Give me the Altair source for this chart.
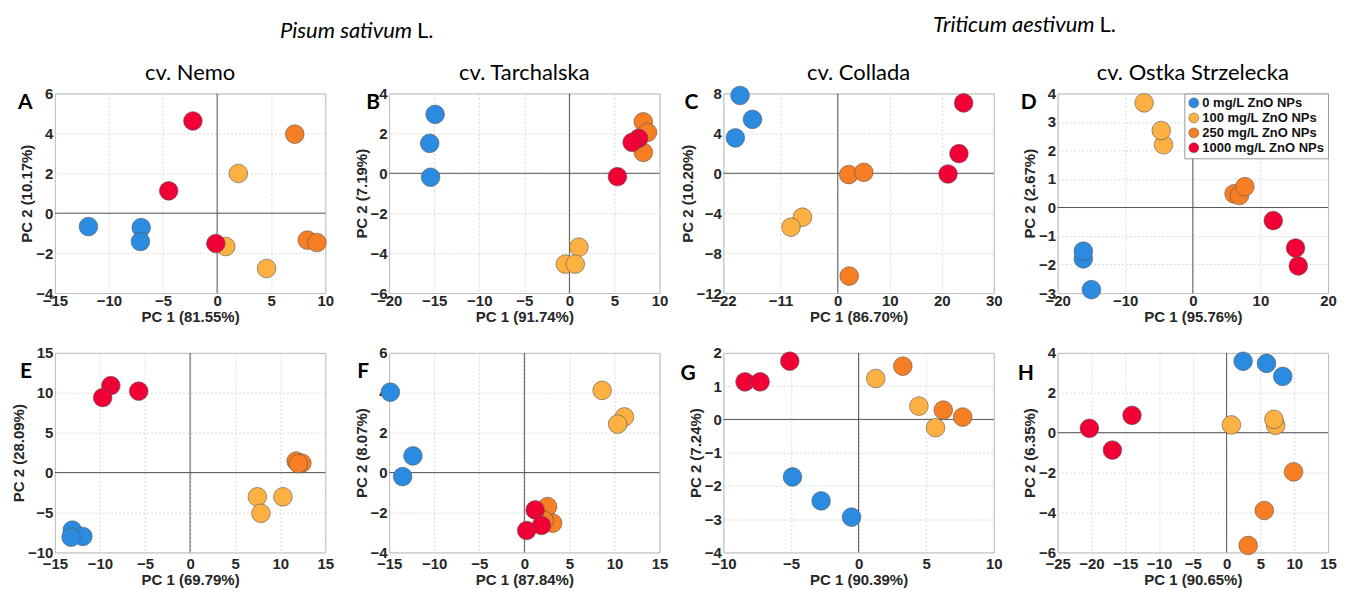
import altair as alt
import pandas as pd

# ---------------- data ----------------
doses = ["0 mg/L ZnO NPs", "100 mg/L ZnO NPs", "250 mg/L ZnO NPs", "1000 mg/L ZnO NPs"]
dose_colors = ["#2a8be0", "#fdb142", "#f87e24", "#f00034"]

letters = ["A", "B", "C", "D", "E", "F", "G", "H"]
cultivars = ["cv. Nemo", "cv. Tarchalska", "cv. Collada", "cv. Ostka Strzelecka"]
species = ["Pisum sativum", "Triticum aestivum"]
species_suffix = "L."

pc1_titles = ["PC 1 (81.55%)", "PC 1 (91.74%)", "PC 1 (86.70%)", "PC 1 (95.76%)",
              "PC 1 (69.79%)", "PC 1 (87.84%)", "PC 1 (90.39%)", "PC 1 (90.65%)"]
pc2_titles = ["PC 2 (10.17%)", "PC 2 (7.19%)", "PC 2 (10.20%)", "PC 2 (2.67%)",
              "PC 2 (28.09%)", "PC 2 (8.07%)", "PC 2 (7.24%)", "PC 2 (6.35%)"]

x_domains = [[-15, 10], [-20, 10], [-22, 30], [-20, 20], [-15, 15], [-15, 15], [-10, 10], [-25, 15]]
x_ticks = [[-15, -10, -5, 0, 5, 10], [-20, -15, -10, -5, 0, 5, 10], [-22, -11, 0, 10, 20, 30],
           [-20, -10, 0, 10, 20], [-15, -10, -5, 0, 5, 10, 15], [-15, -10, -5, 0, 5, 10, 15],
           [-10, -5, 0, 5, 10], [-25, -20, -15, -10, -5, 0, 5, 10, 15]]
y_domains = [[-4, 6], [-6, 4], [-12, 8], [-3, 4], [-10, 15], [-4, 6], [-4, 2], [-6, 4]]
y_ticks = [[-4, -2, 0, 2, 4, 6], [-6, -4, -2, 0, 2, 4], [-12, -8, -4, 0, 4, 8],
           [-3, -2, -1, 0, 1, 2, 3, 4], [-10, -5, 0, 5, 10, 15], [-4, -2, 0, 2, 4, 6],
           [-4, -3, -2, -1, 0, 1, 2], [-6, -4, -2, 0, 2, 4]]

# group index into doses (0, 100, 250, 1000 mg/L)
A_grp = [0, 0, 0, 1, 1, 1, 2, 2, 2, 3, 3, 3]
A_pc1 = [-11.9, -7.02, -7.09, 1.96, 0.8, 4.57, 7.18, 8.34, 9.23, -2.24, -4.48, -0.12]
A_pc2 = [-0.67, -0.72, -1.42, 1.99, -1.67, -2.77, 3.96, -1.35, -1.47, 4.62, 1.12, -1.52]

B_grp = [0, 0, 0, 1, 1, 1, 2, 2, 2, 3, 3, 3]
B_pc1 = [-14.9, -15.5, -15.4, 1.05, -0.45, 0.65, 8.2, 8.66, 8.2, 7.68, 6.96, 5.33]
B_pc2 = [2.95, 1.5, -0.2, -3.7, -4.55, -4.55, 2.58, 2.05, 1.05, 1.75, 1.55, -0.17]

C_grp = [0, 0, 0, 1, 1, 2, 2, 2, 3, 3, 3]
C_pc1 = [-18.8, -16.4, -19.7, -6.8, -9.0, 2.1, 5.0, 2.2, 24.2, 23.3, 21.2]
C_pc2 = [7.8, 5.4, 3.55, -4.4, -5.4, -0.13, 0.1, -10.3, 7.05, 1.97, -0.07]

D_grp = [0, 0, 0, 1, 1, 1, 2, 2, 2, 3, 3, 3]
D_pc1 = [-16.2, -16.2, -15.0, -7.2, -4.33, -4.67, 6.1, 6.9, 7.7, 11.9, 15.2, 15.6]
D_pc2 = [-1.8, -1.53, -2.88, 3.67, 2.2, 2.7, 0.48, 0.42, 0.73, -0.46, -1.42, -2.05]

E_grp = [0, 0, 0, 1, 1, 1, 2, 2, 2, 3, 3, 3]
E_pc1 = [-13.07, -11.9, -13.2, 7.46, 10.3, 7.86, 11.77, 12.4, 12.0, -8.8, -9.7, -5.7]
E_pc2 = [-7.2, -8.0, -8.09, -3.03, -3.03, -5.1, 1.45, 1.2, 1.12, 10.9, 9.4, 10.2]

F_grp = [0, 0, 0, 1, 1, 1, 2, 2, 2, 3, 3, 3]
F_pc1 = [-14.87, -12.36, -13.5, 8.63, 11.1, 10.35, 2.58, 3.14, 2.2, 1.2, 0.26, 1.9]
F_pc2 = [4.03, 0.84, -0.2, 4.12, 2.79, 2.43, -1.7, -2.53, -2.4, -1.87, -2.9, -2.65]

G_grp = [0, 0, 0, 1, 1, 1, 2, 2, 2, 3, 3, 3]
G_pc1 = [-4.89, -2.77, -0.52, 1.27, 4.46, 5.69, 3.27, 6.26, 7.7, -5.09, -8.4, -7.28]
G_pc2 = [-1.73, -2.45, -2.94, 1.23, 0.4, -0.25, 1.6, 0.28, 0.07, 1.75, 1.13, 1.13]

H_grp = [0, 0, 0, 1, 1, 1, 2, 2, 2, 3, 3, 3]
H_pc1 = [2.44, 5.9, 8.3, 0.71, 7.25, 7.0, 9.9, 5.57, 3.19, -20.3, -14.0, -16.9]
H_pc2 = [3.58, 3.47, 2.82, 0.39, 0.37, 0.67, -1.96, -3.9, -5.65, 0.22, 0.87, -0.87]

all_grp = [A_grp, B_grp, C_grp, D_grp, E_grp, F_grp, G_grp, H_grp]
all_pc1 = [A_pc1, B_pc1, C_pc1, D_pc1, E_pc1, F_pc1, G_pc1, H_pc1]
all_pc2 = [A_pc2, B_pc2, C_pc2, D_pc2, E_pc2, F_pc2, G_pc2, H_pc2]

# ---------------- layout ----------------
widths = [271, 271, 271, 271]
HEIGHT = 200
letter_dx = [-37, -23, -39, -37, -35, -32, -43, -40]
letter_dy = [16, 16, 16, 16, 25, 25, 27, 27]

AX_FONT = "Arial"
TXT_FONT = "Lato"
INK = "#262626"
one = pd.DataFrame({"k": [0]})

axis_style = dict(
    labelFont=AX_FONT, labelFontWeight="bold", labelFontSize=15, labelColor=INK,
    titleFont=AX_FONT, titleFontWeight="bold", titleFontSize=15, titleColor=INK,
    domain=False, ticks=False, grid=True, gridColor="#d2d2d2", gridDash=[2, 2],
    gridWidth=0.8, labelOverlap=False, labelFlush=False, labelBound=False,
)


def panel(i):
    row, col = divmod(i, 4)
    w = widths[col]
    df = pd.DataFrame({
        "pc1": all_pc1[i],
        "pc2": all_pc2[i],
        "dose": [doses[g] for g in all_grp[i]],
    })
    xs = alt.Scale(domain=x_domains[i], nice=False, zero=False)
    ys = alt.Scale(domain=y_domains[i], nice=False, zero=False)
    xaxis = alt.Axis(title=pc1_titles[i], values=x_ticks[i], labelPadding=1 if row == 0 else 4,
                     titlePadding=1, **axis_style)
    yaxis = alt.Axis(title=pc2_titles[i], values=y_ticks[i], labelPadding=2, titlePadding=1,
                     **axis_style)
    if i == 3:
        leg = alt.Legend(title=None, orient="top-right", offset=0, padding=3,
                         strokeColor="#9a9a9a", fillColor="white",
                         labelFont=AX_FONT, labelFontWeight="bold", labelFontSize=13,
                         labelColor="#111111", symbolSize=100, symbolType="circle",
                         symbolStrokeColor="#555555", symbolStrokeWidth=0.5,
                         rowPadding=1, labelOffset=2, symbolOpacity=1)
    else:
        leg = None

    zx = alt.Chart(one).mark_rule(color="#555555", strokeWidth=1).encode(
        x=alt.XDatum(0, type="quantitative", scale=xs, axis=xaxis))
    zy = alt.Chart(one).mark_rule(color="#555555", strokeWidth=1).encode(
        y=alt.YDatum(0, type="quantitative", scale=ys, axis=yaxis))
    pts = alt.Chart(df).mark_circle(size=350, opacity=1, stroke="#555555", strokeWidth=0.6).encode(
        x=alt.X("pc1:Q", scale=xs, axis=xaxis),
        y=alt.Y("pc2:Q", scale=ys, axis=yaxis),
        color=alt.Color("dose:N", scale=alt.Scale(domain=doses, range=dose_colors), legend=leg),
    )
    letter = alt.Chart(one).mark_text(
        text=letters[i], align="left", baseline="alphabetic", font=TXT_FONT,
        fontWeight="bold", fontSize=21, color="#000000"
    ).encode(x=alt.value(letter_dx[i]), y=alt.value(letter_dy[i]))
    layers = [zx, zy, pts, letter]
    if row == 0:
        layers.append(alt.Chart(one).mark_text(
            text=cultivars[col], align="center", baseline="alphabetic", font=TXT_FONT,
            fontSize=22, color="#000000"
        ).encode(x=alt.value(w / 2), y=alt.value(-13)))
    if i in (1, 3):
        s = 0 if i == 1 else 1
        dx = 23 if i == 1 else 37
        dy = -56 if i == 1 else -62
        layers.append(alt.Chart(one).mark_text(
            text=species[s], align="right", baseline="alphabetic", font=TXT_FONT,
            fontSize=22, fontStyle="italic", color="#000000"
        ).encode(x=alt.value(dx), y=alt.value(dy)))
        layers.append(alt.Chart(one).mark_text(
            text=species_suffix, align="left", baseline="alphabetic", font=TXT_FONT,
            fontSize=22, color="#000000"
        ).encode(x=alt.value(dx + 5), y=alt.value(dy)))
    return alt.layer(*layers).properties(width=w, height=HEIGHT)


chart = alt.concat(
    *[panel(i) for i in range(8)], columns=4, spacing={"row": 60, "column": 64},
    bounds="flush", align="each"
).resolve_legend(color="independent").properties(
    padding={"left": 3, "top": 4, "right": 0, "bottom": 0}, background="white"
).configure_view(
    stroke="#b4b4b4", strokeWidth=1
)

chart.save("out.html", embed_options={"renderer": "svg", "actions": False})
